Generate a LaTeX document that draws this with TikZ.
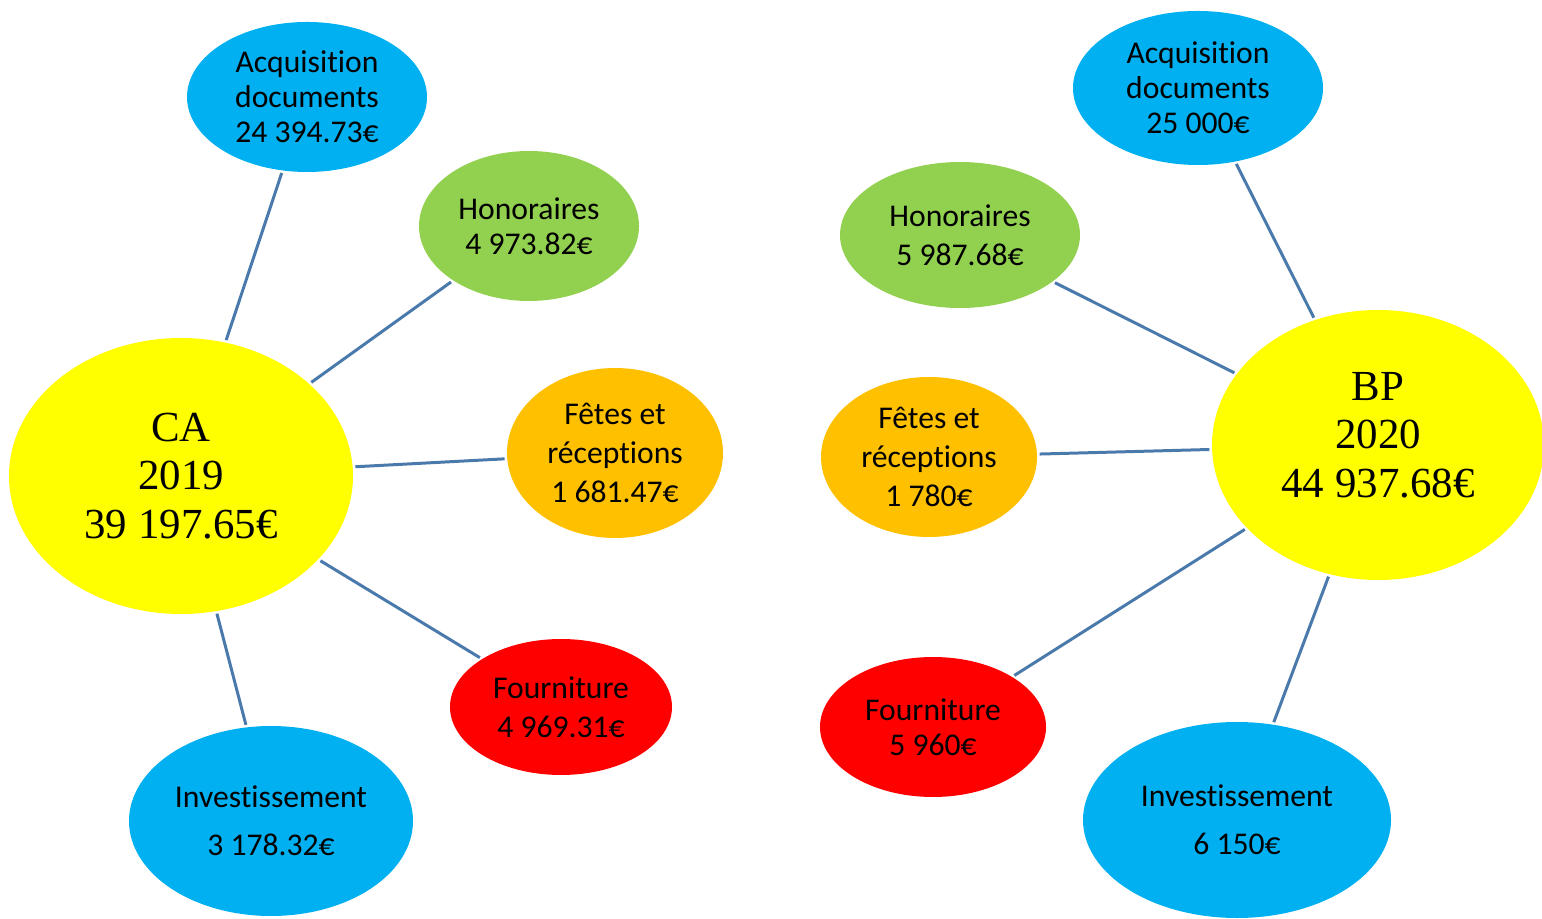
\documentclass[tikz,border=0pt]{standalone}
\usepackage{fontspec}
\setmainfont{Carlito}[Ligatures=NoCommon]
\newfontfamily\bigfont{Liberation Serif}
\usepackage{xcolor}
\usepackage{tikz}
\usetikzlibrary{shapes,positioning,calc}

\definecolor{skyblue}{HTML}{00B0F0}
\definecolor{leafgreen}{HTML}{92D050}
\definecolor{amber}{HTML}{FFC000}
\definecolor{sunyellow}{HTML}{FFFF00}
\definecolor{linkblue}{HTML}{4A7AAB}

\tikzset{
  bubble/.style={ellipse, inner sep=0pt, align=center, text=black,
    font=\fontsize{9}{10}\selectfont},
  hub/.style={bubble, fill=sunyellow, font=\bigfont\fontsize{12.2}{13.8}\selectfont},
  link/.style={draw=linkblue, line width=0.85pt, shorten <=0.02cm, shorten >=0.02cm}
}

\begin{document}
\begin{tikzpicture}
            \useasboundingbox (0,0) rectangle (15.42,9.18);

            % CA 2019
            \node[hub, minimum width=3.44cm, minimum height=2.76cm] (ca) at (1.81,4.42) {CA\\2019\\39 197.65€};
            \node[bubble, fill=skyblue, minimum width=2.40cm, minimum height=1.50cm] (acqL) at (3.07,8.21) {Acquisition\\documents\\24 394.73€};
            \node[bubble, fill=leafgreen, minimum width=2.20cm, minimum height=1.50cm] (honL) at (5.29,6.92) {Honoraires\\4 973.82€};
            \node[bubble, fill=amber, minimum width=2.16cm, minimum height=1.70cm] (fetL) at (6.15,4.65) {Fêtes et\\[1.1pt]réceptions\\[1.1pt]1 681.47€};
            \node[bubble, fill=red, minimum width=2.22cm, minimum height=1.36cm] (fouL) at (5.61,2.11) {Fourniture\\[1.1pt]4 969.31€};
            \node[bubble, fill=skyblue, minimum width=2.84cm, minimum height=1.90cm] (invL) at (2.71,0.97) {Investissement\\[3.7pt]3 178.32€};

            % BP 2020 (text sits a bit above the centre)
            \node[hub, minimum width=3.32cm, minimum height=2.70cm,
                  label={[align=center, yshift=0.1cm, font=\bigfont\fontsize{12.2}{13.8}\selectfont]center:BP\\2020\\44 937.68€}] (bp) at (13.78,4.73) {};
            \node[bubble, fill=skyblue, minimum width=2.50cm, minimum height=1.54cm] (acqR) at (11.98,8.30) {Acquisition\\documents\\25 000€};
            \node[bubble, fill=leafgreen, minimum width=2.40cm, minimum height=1.46cm] (honR) at (9.60,6.83) {Honoraires\\[1.1pt]5 987.68€};
            \node[bubble, fill=amber, minimum width=2.16cm, minimum height=1.60cm] (fetR) at (9.29,4.61) {Fêtes et\\[1.1pt]réceptions\\[1.1pt]1 780€};
            \node[bubble, fill=red, minimum width=2.26cm, minimum height=1.40cm] (fouR) at (9.33,1.91) {Fourniture\\5 960€};
            \node[bubble, fill=skyblue, minimum width=3.08cm, minimum height=1.96cm] (invR) at (12.37,0.98) {Investissement\\[3.7pt]6 150€};

            % Links
            \foreach \n in {acqL,honL,fetL,fouL,invL} {
                \draw[link] (ca) -- (\n);
            }
            \foreach \n in {acqR,honR,fetR,fouR,invR} {
                \draw[link] (bp) -- (\n);
            }
        \end{tikzpicture}
\end{document}
